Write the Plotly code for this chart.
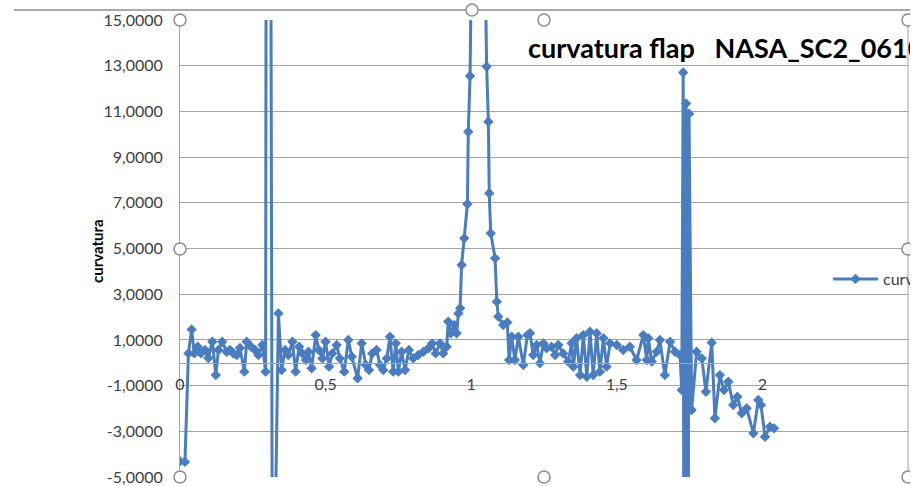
import plotly.graph_objects as go

# ---- data ----
x_vals = [0.000,0.017,0.029,0.040,0.049,0.061,0.072,0.086,0.097,0.111,
          0.123,0.132,0.145,0.160,0.172,0.183,0.195,0.206,0.221,0.229,
          0.244,0.258,0.269,0.283,0.294,0.301,0.318,0.338,0.349,0.361,
          0.372,0.386,0.397,0.409,0.420,0.432,0.441,0.452,0.466,0.477,
          0.489,0.500,0.512,0.523,0.538,0.549,0.564,0.578,0.590,0.610,
          0.624,0.638,0.649,0.660,0.675,0.687,0.698,0.710,0.721,0.732,
          0.741,0.750,0.761,0.773,0.786,0.801,0.818,0.836,0.853,0.866,
          0.878,0.893,0.904,0.916,0.921,0.930,0.942,0.950,0.956,0.962,
          0.967,0.976,0.987,0.990,0.996,1.023,1.053,1.059,1.062,1.067,
          1.082,1.088,1.093,1.110,1.124,1.130,1.139,1.150,1.162,1.179,
          1.193,1.202,1.213,1.225,1.236,1.248,1.259,1.276,1.288,1.299,
          1.316,1.333,1.345,1.351,1.362,1.374,1.385,1.397,1.408,1.419,
          1.431,1.442,1.454,1.465,1.477,1.500,1.522,1.545,1.568,1.591,
          1.603,1.608,1.620,1.637,1.648,1.665,1.683,1.700,1.717,1.723,
          1.728,1.733,1.738,1.743,1.748,1.757,1.774,1.792,1.806,1.826,
          1.837,1.854,1.868,1.883,1.900,1.914,1.929,1.946,1.969,1.986,
          1.995,2.009,2.026,2.040]

curvatura = [-4.31,-4.34,0.41,1.46,0.41,0.70,0.41,0.56,0.21,0.92,
             -0.54,0.56,0.92,0.48,0.56,0.41,0.34,0.65,-0.39,0.92,
             0.70,0.56,0.34,0.78,-0.39,80,-15,2.16,-0.32,0.56,
             0.34,0.92,-0.39,0.70,0.41,0.12,0.48,-0.24,1.21,0.56,
             0.19,0.92,-0.17,0.41,0.78,0.19,-0.39,1.00,0.26,-0.68,
             0.85,-0.10,-0.32,0.41,0.56,-0.10,-0.32,0.19,1.14,-0.39,
             0.85,-0.39,0.48,-0.32,0.56,0.19,0.34,0.48,0.63,0.85,
             0.41,0.85,0.41,0.70,1.80,1.29,1.65,1.29,2.16,2.38,
             4.28,5.45,6.95,10.11,12.55,40,12.96,10.55,7.42,5.67,
             4.57,2.67,2.02,1.65,1.76,0.12,1.14,0.12,1.14,-0.10,
             1.21,1.29,0.34,0.78,-0.02,0.85,0.63,0.70,0.34,0.78,
             0.41,0.05,0.85,-0.17,1.07,-0.54,1.21,-0.61,1.36,-0.54,
             1.29,-0.39,1.07,-0.17,0.85,0.78,0.56,0.70,0.12,1.21,
             0.12,1.07,0.05,0.48,1.00,-0.54,0.92,0.48,0.34,-1.19,
             12.70,-40,11.35,-30,10.90,-2.07,0.48,0.19,-1.27,0.88,
             -2.43,-0.54,-1.19,-0.83,-1.85,-1.49,-2.21,-1.99,-3.09,-1.63,
             -1.85,-3.24,-2.80,-2.87]

y_tickvals = [-5, -3, -1, 1, 3, 5, 7, 9, 11, 13, 15]
y_ticktext = ["-5,0000", "-3,0000", "-1,0000", "1,0000", "3,0000", "5,0000",
              "7,0000", "9,0000", "11,0000", "13,0000", "15,0000"]
x_tickvals = [0, 0.5, 1, 1.5, 2, 2.5]
x_ticktext = ["0", "0,5", "1", "1,5", "2", "2,5"]

series_name = "curvatura"
title_text = "curvatura flap   NASA_SC2_0610"
y_title = "curvatura"

# ---- styling ----
BLUE = "#4a7dbf"
GRID = "#a4a4a4"
TXT = "#404040"
FONT = "Lato"

W, H = 910, 486
L, R, T, B = 180, 908, 20, 477   # plot area in pixels


def px(xp):
    return (xp - L) / (R - L)


def py(yp):
    return (B - yp) / (B - T)


fig = go.Figure()
fig.add_trace(go.Scatter(
    x=x_vals, y=curvatura, mode="lines+markers", name=series_name,
    line=dict(color=BLUE, width=3),
    marker=dict(symbol="diamond", size=8, color=BLUE),
))

shapes = []
# plot-area right border and chart-area top border
shapes.append(dict(type="line", xref="paper", yref="paper", x0=1, x1=1, y0=0, y1=1,
                   line=dict(color=GRID, width=1), layer="above"))
shapes.append(dict(type="line", xref="paper", yref="paper", x0=px(14), x1=px(W), y0=py(10), y1=py(10),
                   line=dict(color="#8c8c8c", width=1.5), layer="above"))
# selection handles
handles = [(180, 20), (544, 20), (908, 20), (180, 249), (908, 249),
           (180, 477), (544, 477), (908, 477), (472, 10)]
for hx, hy in handles:
    shapes.append(dict(type="circle", xref="paper", yref="paper",
                       xsizemode="pixel", ysizemode="pixel",
                       xanchor=px(hx), yanchor=py(hy),
                       x0=-6, x1=6, y0=-6, y1=6,
                       fillcolor="white", line=dict(color="#8c8c8c", width=1.5),
                       layer="above"))

annotations = [
    dict(text="<b>" + title_text + "</b>", xref="paper", yref="paper",
         x=px(526), y=py(48), xanchor="left", yanchor="middle", showarrow=False,
         font=dict(family=FONT, size=27, color="#000000")),
    dict(text="<b>" + y_title + "</b>", xref="paper", yref="paper",
         x=px(97), y=py(251), xanchor="center", yanchor="middle", showarrow=False,
         textangle=-90, font=dict(family=FONT, size=15, color="#000000")),
]

fig.update_layout(
    width=W, height=H,
    margin=dict(l=L, r=W - R, t=T, b=H - B, autoexpand=False),
    paper_bgcolor="white", plot_bgcolor="white",
    showlegend=True,
    legend=dict(x=px(828), y=py(279), xanchor="left", yanchor="middle",
                font=dict(family=FONT, size=16, color=TXT),
                bgcolor="rgba(0,0,0,0)", itemwidth=45),
    xaxis=dict(range=[0, 2.5], tickvals=x_tickvals, ticktext=x_ticktext,
               showgrid=False, zeroline=False, showline=True, linecolor=GRID, linewidth=1,
               anchor="free", position=0.25, side="bottom", ticks="",
               ticklabelstandoff=7,
               tickfont=dict(family=FONT, size=16, color=TXT)),
    yaxis=dict(range=[-5, 15], tickvals=y_tickvals, ticktext=y_ticktext,
               showgrid=True, gridcolor=GRID, gridwidth=1, zeroline=False,
               showline=True, linecolor=GRID, linewidth=1, ticks="",
               ticklabelstandoff=13,
               tickfont=dict(family=FONT, size=16, color=TXT)),
    shapes=shapes,
    annotations=annotations,
)

fig.write_html("out.html")
